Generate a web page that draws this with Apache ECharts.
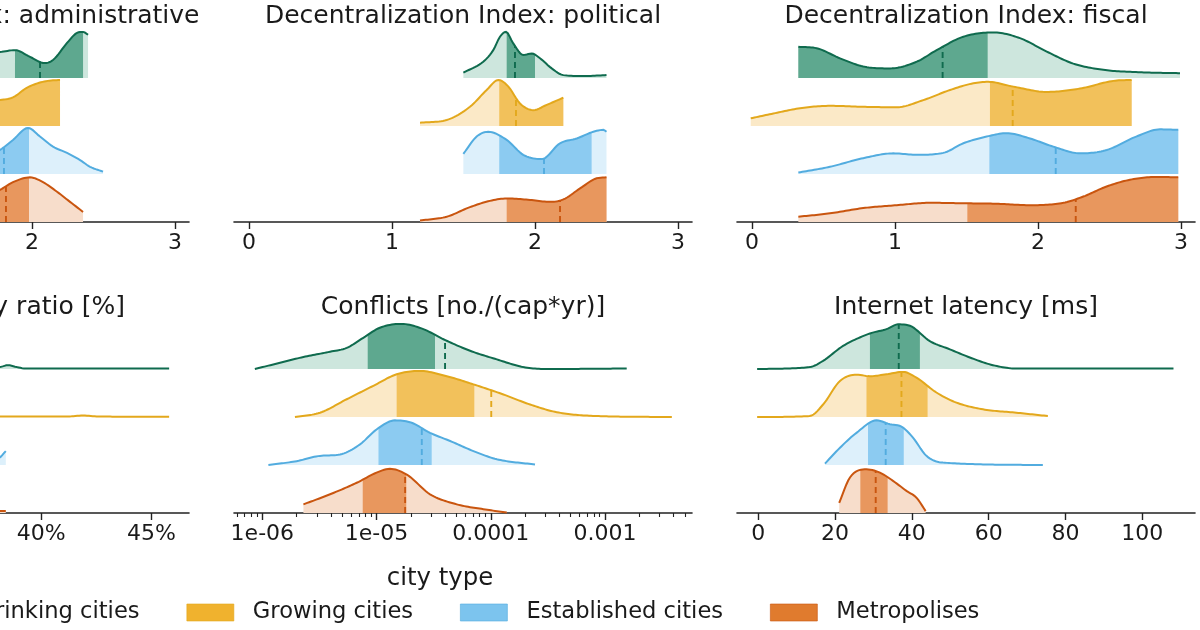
<!DOCTYPE html>
<html>
<head>
<meta charset="utf-8">
<script src="https://cdn.jsdelivr.net/npm/echarts@6/dist/echarts.min.js"></script>
<style>
  html, body { margin: 0; padding: 0; background: #fff; }
  #chart { width: 1200px; height: 630px; }
</style>
</head>
<body>
<div id="chart"></div>
<script>
// city types, top ridge first
const cityTypes = ['Shrinking cities', 'Growing cities', 'Established cities', 'Metropolises'];
const lineColors = ['#0f6b4e', '#e3a81c', '#52acdf', '#c9550f'];
const darkFills = ['#5ea88f', '#f2c15b', '#8ccbf1', '#e8975e'];
const lightFills = ['#cde6dd', '#fbe9c7', '#ddf0fb', '#f7ddcb'];
const legendColors = ['#3d9a7b', '#f0b22e', '#7cc4ee', '#e07b2e'];

// each curve: [x, relative density height]; stats: [lower quantile, upper quantile, median]
const adminCurves = [
    [[1.0, 0.2], [1.2, 0.42], [1.45, 0.58], [1.65, 0.5], [1.776, 0.54], [1.881, 0.58], [1.986, 0.44], [2.09, 0.31], [2.147, 0.375], [2.245, 0.73], [2.315, 0.94], [2.357, 0.96], [2.392, 0.9]],
    [[1.0, 0.1], [1.3, 0.28], [1.55, 0.42], [1.776, 0.54], [1.87, 0.6], [1.96, 0.79], [2.05, 0.9], [2.11, 0.94], [2.196, 0.96]],
    [[1.2, 0.05], [1.45, 0.18], [1.65, 0.33], [1.776, 0.5], [1.867, 0.71], [1.972, 0.96], [2.056, 0.78], [2.147, 0.57], [2.245, 0.44], [2.336, 0.29], [2.406, 0.15], [2.497, 0.05]],
    [[1.1, 0.05], [1.35, 0.2], [1.6, 0.45], [1.776, 0.67], [1.867, 0.83], [1.986, 0.93], [2.077, 0.83], [2.175, 0.63], [2.266, 0.42], [2.357, 0.21]]
];
const adminStats = [[1.881, 2.357, 2.056], [1.6, 2.196, 1.7], [1.55, 1.979, 1.804], [1.6, 1.979, 1.818]];

const politicalCurves = [
    [[1.499, 0.11], [1.638, 0.34], [1.708, 0.58], [1.755, 0.86], [1.797, 0.96], [1.848, 0.72], [1.918, 0.48], [1.977, 0.51], [2.035, 0.41], [2.117, 0.2], [2.198, 0.06], [2.336, 0.04], [2.5, 0.06]],
    [[1.196, 0.07], [1.382, 0.125], [1.545, 0.4], [1.662, 0.75], [1.744, 0.96], [1.814, 0.82], [1.895, 0.47], [1.988, 0.33], [2.082, 0.44], [2.198, 0.59]],
    [[1.499, 0.42], [1.592, 0.78], [1.673, 0.88], [1.802, 0.71], [1.918, 0.4], [2.047, 0.31], [2.175, 0.64], [2.292, 0.74], [2.408, 0.88], [2.478, 0.92], [2.5, 0.88]],
    [[1.196, 0.03], [1.382, 0.11], [1.545, 0.31], [1.685, 0.44], [1.802, 0.49], [1.965, 0.46], [2.105, 0.42], [2.198, 0.47], [2.315, 0.7], [2.431, 0.91], [2.5, 0.93]]
];
const politicalStats = [[1.802, 2.0, 1.86], [1.75, 2.198, 1.867], [1.75, 2.396, 2.063], [1.802, 2.5, 2.175]];

const fiscalCurves = [
    [[0.324, 0.65], [0.452, 0.62], [0.615, 0.41], [0.778, 0.24], [0.965, 0.2], [1.152, 0.34], [1.291, 0.58], [1.478, 0.86], [1.687, 0.95], [1.874, 0.83], [2.061, 0.55], [2.247, 0.3], [2.457, 0.17], [2.713, 0.12], [2.993, 0.1]],
    [[-0.009, 0.16], [0.149, 0.26], [0.336, 0.37], [0.545, 0.42], [0.778, 0.4], [1.012, 0.39], [1.198, 0.54], [1.385, 0.75], [1.548, 0.89], [1.652, 0.92], [1.827, 0.82], [2.061, 0.71], [2.294, 0.78], [2.527, 0.94], [2.655, 0.96]],
    [[0.324, 0.03], [0.545, 0.15], [0.778, 0.33], [0.988, 0.43], [1.152, 0.4], [1.338, 0.44], [1.478, 0.64], [1.641, 0.78], [1.781, 0.85], [1.944, 0.74], [2.107, 0.57], [2.294, 0.43], [2.48, 0.5], [2.687, 0.78], [2.853, 0.93], [2.981, 0.92]],
    [[0.324, 0.11], [0.545, 0.18], [0.778, 0.29], [1.012, 0.35], [1.245, 0.4], [1.478, 0.39], [1.711, 0.38], [1.944, 0.35], [2.177, 0.4], [2.317, 0.53], [2.48, 0.74], [2.643, 0.88], [2.83, 0.94], [2.981, 0.93]]
];
const fiscalStats = [[0.3, 1.648, 1.333], [1.664, 2.655, 1.823], [1.66, 2.981, 2.124], [1.506, 2.981, 2.264]];

const vacancyCurves = [
    [[26.5, 0.02], [28, 0.35], [29.5, 0.93], [31, 0.7], [32.5, 0.35], [34, 0.15], [36, 0.06], [38.1, 0.04], [38.5, 0.08], [38.9, 0.04], [39.3, 0.01], [42, 0.01], [45.8, 0.01]],
    [[27, 0.02], [29, 0.4], [30.5, 0.95], [32, 0.6], [34, 0.2], [36, 0.05], [38.1, 0.01], [41.2, 0.01], [41.9, 0.03], [42.6, 0.01], [45.8, 0.005]],
    [[28, 0.02], [30, 0.5], [31.5, 0.95], [33, 0.5], [35, 0.15], [37, 0.08], [38.1, 0.15], [38.4, 0.29]],
    [[29, 0.05], [31, 0.6], [32.5, 0.95], [34, 0.5], [36, 0.1], [37.5, 0.04], [38.4, 0.04]]
];
const vacancyStats = [[28.8, 31.5, 30.2], [29.6, 32.2, 30.9], [30.5, 32.8, 31.6], [31.2, 33.5, 32.4]];

const conflictCurves = [
    [[8.6e-7, 0], [1.43e-6, 0.13], [2.29e-6, 0.25], [3.92e-6, 0.36], [5.48e-6, 0.44], [7.66e-6, 0.65], [1.07e-5, 0.86], [1.66e-5, 0.94], [2.57e-5, 0.83], [3.85e-5, 0.62], [6.59e-5, 0.38], [1.13e-4, 0.2], [1.93e-4, 0.04], [3.09e-4, 0.0], [1.55e-3, 0.01]],
    [[1.93e-6, 0], [3.2e-6, 0.09], [5.48e-6, 0.37], [9.38e-6, 0.65], [1.5e-5, 0.89], [2.4e-5, 0.96], [4.12e-5, 0.85], [7.05e-5, 0.68], [1.29e-4, 0.47], [2.21e-4, 0.26], [3.78e-4, 0.1], [8.47e-4, 0.02], [3.85e-3, 0]],
    [[1.13e-6, 0], [2.0e-6, 0.08], [3.2e-6, 0.19], [4.79e-6, 0.22], [7.16e-6, 0.43], [1.0e-5, 0.74], [1.45e-5, 0.93], [2.03e-5, 0.88], [2.94e-5, 0.67], [4.41e-5, 0.5], [7.05e-5, 0.29], [1.13e-4, 0.12], [2.44e-4, 0.01]],
    [[2.29e-6, 0.18], [3.92e-6, 0.39], [6.71e-6, 0.63], [1.0e-5, 0.84], [1.31e-5, 0.92], [1.84e-5, 0.8], [2.94e-5, 0.39], [5.04e-5, 0.18], [8.61e-5, 0.08], [1.38e-4, 0.01]]
];
const conflictStats = [[8.37e-6, 3.25e-5, 3.98e-5], [1.5e-5, 7.18e-5, 1.01e-4], [1.04e-5, 3.04e-5, 2.49e-5], [7.57e-6, 1.82e-5, 1.78e-5]];

const latencyCurves = [
    [[-0.26, 0], [13.4, 0.04], [16.9, 0.17], [22.1, 0.48], [29.1, 0.74], [33.4, 0.83], [36.4, 0.93], [39.5, 0.9], [44.7, 0.58], [49.9, 0.41], [55.1, 0.24], [61.1, 0.08], [67.2, 0.01], [108.1, 0.01]],
    [[-0.26, 0], [13.4, 0.02], [16.9, 0.26], [21.3, 0.75], [25.6, 0.88], [29.1, 0.85], [33.4, 0.89], [37.7, 0.94], [41.2, 0.82], [46.4, 0.51], [51.6, 0.3], [58.5, 0.16], [67.2, 0.09], [75.4, 0.02]],
    [[17.4, 0.03], [21.3, 0.36], [25.6, 0.67], [30.8, 0.93], [34.3, 0.85], [37.3, 0.8], [40.3, 0.57], [43.8, 0.19], [48.1, 0.05], [74.1, 0]],
    [[21.1, 0.21], [23.9, 0.74], [28.2, 0.91], [31.7, 0.84], [35.1, 0.67], [38.6, 0.46], [41.2, 0.32], [43.6, 0.04]]
];
const latencyStats = [[29.1, 42.1, 36.6], [28.2, 44.1, 37.3], [28.6, 37.9, 33.2], [26.6, 33.7, 30.6]];

// tick labels
const indexTicks = [0, 1, 2, 3];
const vacancyTicks = [30, 35, 40, 45];
const conflictTicks = [-6, -5, -4, -3];
const conflictTickLabels = ['1e-06', '1e-05', '0.0001', '0.001'];
const latencyTicks = [0, 20, 40, 60, 80, 100];

const panels = [
    { title: 'Decentralization Index: administrative', curves: adminCurves, stats: adminStats, min: -0.105, max: 3.098, ticks: indexTicks, fmt: v => String(v) },
    { title: 'Decentralization Index: political', curves: politicalCurves, stats: politicalStats, min: -0.105, max: 3.098, ticks: indexTicks, fmt: v => String(v) },
    { title: 'Decentralization Index: fiscal', curves: fiscalCurves, stats: fiscalStats, min: -0.105, max: 3.098, ticks: indexTicks, fmt: v => String(v) },
    { title: 'Housing vacancy ratio [%]', curves: vacancyCurves, stats: vacancyStats, min: 25.95, max: 46.7, ticks: vacancyTicks, fmt: v => v + '%' },
    { title: 'Conflicts [no./(cap*yr)]', curves: conflictCurves, stats: conflictStats, min: -6.248, max: -2.238, ticks: conflictTicks, fmt: v => conflictTickLabels[conflictTicks.indexOf(v)], log: true },
    { title: 'Internet latency [ms]', curves: latencyCurves, stats: latencyStats, min: -5.5, max: 113.7, ticks: latencyTicks, fmt: v => String(v) }
];

const colLeft = [-269, 234, 737];
const rowTop = [30, 321];
const gridW = 458, gridH = 192;
const titleTop = [4, 295];
const axisColor = '#222';
const FONT = 'DejaVu Sans';

// monotone cubic through pixel points, only for drawing
function smoothPath(p) {
    const n = p.length;
    if (n < 3) return p.slice();
    const dx = [], m = [], t = new Array(n);
    for (let i = 0; i < n - 1; i++) {
        dx[i] = p[i + 1][0] - p[i][0];
        m[i] = (p[i + 1][1] - p[i][1]) / dx[i];
    }
    t[0] = m[0];
    t[n - 1] = m[n - 2];
    for (let i = 1; i < n - 1; i++) {
        t[i] = (m[i - 1] * m[i] <= 0) ? 0 : (m[i - 1] + m[i]) / 2;
    }
    for (let i = 0; i < n - 1; i++) {
        if (m[i] === 0) { t[i] = 0; t[i + 1] = 0; continue; }
        const a = t[i] / m[i], b = t[i + 1] / m[i], s = a * a + b * b;
        if (s > 9) {
            const k = 3 / Math.sqrt(s);
            t[i] = k * a * m[i];
            t[i + 1] = k * b * m[i];
        }
    }
    const out = [];
    for (let i = 0; i < n - 1; i++) {
        const h = dx[i];
        const steps = Math.max(2, Math.ceil(h / 2));
        for (let s = 0; s < steps; s++) {
            const u = s / steps, u2 = u * u, u3 = u2 * u;
            const y = (2 * u3 - 3 * u2 + 1) * p[i][1] + (u3 - 2 * u2 + u) * h * t[i]
                + (-2 * u3 + 3 * u2) * p[i + 1][1] + (u3 - u2) * h * t[i + 1];
            out.push([p[i][0] + u * h, y]);
        }
    }
    out.push(p[n - 1]);
    return out;
}

function clipX(d, xa, xb) {
    const out = [];
    for (let i = 0; i < d.length; i++) {
        const x = d[i][0], y = d[i][1];
        if (x >= xa && x <= xb) out.push([x, y]);
        if (i < d.length - 1) {
            const x2 = d[i + 1][0], y2 = d[i + 1][1];
            [xa, xb].forEach(c => {
                if (x < c && x2 > c) out.push([c, y + (y2 - y) * (c - x) / (x2 - x)]);
            });
        }
    }
    return out;
}

function yAt(d, x) {
    for (let i = 0; i < d.length - 1; i++) {
        if (d[i][0] <= x && d[i + 1][0] >= x) {
            const f = (x - d[i][0]) / (d[i + 1][0] - d[i][0] || 1);
            return d[i][1] + f * (d[i + 1][1] - d[i][1]);
        }
    }
    return d[d.length - 1][1];
}

function drawRidge(params, api, base, st, k) {
    if (params.dataIndex !== 0) return null;
    const raw = [];
    for (let i = 0; i < params.dataInsideLength; i++) {
        raw.push(api.coord([api.value(0, i), base + api.value(1, i)]));
    }
    const by = api.coord([api.value(0, 0), base])[1];
    const d = smoothPath(raw).map(q => [q[0], Math.min(q[1], by)]);
    const first = d[0][0], last = d[d.length - 1][0];
    const xa = api.coord([st[0], base])[0];
    const xb = api.coord([st[1], base])[0];
    const xm = api.coord([st[2], base])[0];

    const children = [{
        type: 'polygon',
        shape: { points: [[first, by]].concat(d, [[last, by]]) },
        style: { fill: lightFills[k] }
    }];
    const top = clipX(d, Math.max(xa, first), Math.min(xb, last));
    if (top.length > 1) {
        children.push({
            type: 'polygon',
            shape: { points: [[top[0][0], by]].concat(top, [[top[top.length - 1][0], by]]) },
            style: { fill: darkFills[k] }
        });
    }
    if (xm > first && xm < last) {
        children.push({
            type: 'line',
            shape: { x1: xm, y1: by, x2: xm, y2: yAt(d, xm) },
            style: { stroke: lineColors[k], lineWidth: 1.9, lineDash: [6, 4] }
        });
    }
    children.push({
        type: 'polyline',
        shape: { points: d },
        style: { stroke: lineColors[k], lineWidth: 2, fill: 'none' }
    });
    return { type: 'group', children: children };
}

const grids = [], xAxes = [], yAxes = [], titles = [], series = [];

panels.forEach((p, g) => {
    const col = g % 3, row = Math.floor(g / 3);
    grids.push({
        left: colLeft[col], top: rowTop[row], width: gridW, height: gridH,
        containLabel: false, outerBoundsMode: 'none'
    });
    xAxes.push({
        gridIndex: g, type: 'value', min: p.min, max: p.max, position: 'bottom',
        axisLine: { show: true, onZero: false, lineStyle: { color: axisColor, width: 1.6 } },
        axisTick: { show: true, length: 7, customValues: p.ticks, lineStyle: { color: axisColor, width: 1.4 } },
        axisLabel: { customValues: p.ticks, formatter: p.fmt, fontSize: 22, color: '#1a1a1a', margin: 10, fontFamily: FONT, hideOverlap: false },
        splitLine: { show: false }
    });
    yAxes.push({ gridIndex: g, type: 'value', min: 0, max: 4, show: false });
    titles.push({
        text: p.title, left: colLeft[col] + gridW / 2, top: titleTop[row], textAlign: 'center', padding: 0,
        textStyle: { fontSize: 25, fontWeight: 'normal', color: '#1a1a1a', fontFamily: FONT }
    });

    const tx = p.log ? Math.log10 : (v => v);
    p.curves.forEach((pts, k) => {
        const base = 3 - k;
        const st = p.stats[k].map(tx);
        series.push({
            type: 'custom',
            name: cityTypes[k],
            xAxisIndex: g,
            yAxisIndex: g,
            data: pts.map(q => [tx(q[0]), q[1]]),
            itemStyle: { color: legendColors[k] },
            silent: true,
            renderItem: (params, api) => drawRidge(params, api, base, st, k)
        });
    });
});

// minor log ticks for the conflicts panel
const minorTicks = [];
for (let e = -7; e <= -3; e++) {
    for (let m = 2; m <= 9; m++) {
        const v = Math.log10(m) + e;
        if (v > -6.248 && v < -2.238) minorTicks.push(v);
    }
}
xAxes.push({
    gridIndex: 4, type: 'value', min: -6.248, max: -2.238, position: 'bottom', offset: 0,
    axisLine: { show: false },
    axisTick: { show: true, length: 4, customValues: minorTicks, lineStyle: { color: axisColor, width: 1.1 } },
    axisLabel: { show: false },
    splitLine: { show: false }
});

titles.push({
    text: 'city type', left: 440, top: 567, textAlign: 'center', padding: 0,
    textStyle: { fontSize: 24.4, fontWeight: 'normal', color: '#1a1a1a', fontFamily: FONT }
});

const chart = echarts.init(document.getElementById('chart'));
chart.setOption({
    animation: false,
    backgroundColor: '#fff',
    textStyle: { fontFamily: FONT },
    title: titles,
    grid: grids,
    xAxis: xAxes,
    yAxis: yAxes,
    legend: {
        left: -100, top: 601, padding: 0, orient: 'horizontal',
        itemWidth: 47, itemHeight: 17, itemGap: 47, icon: 'rect',
        selectedMode: false,
        data: cityTypes.map((n, k) => ({
            name: n,
            itemStyle: { color: legendColors[k], borderColor: lineColors[k], borderWidth: 0.6 }
        })),
        textStyle: { fontSize: 22.6, color: '#1a1a1a', fontFamily: FONT, padding: [0, 0, 0, 14] }
    },
    series: series
});
</script>
</body>
</html>
